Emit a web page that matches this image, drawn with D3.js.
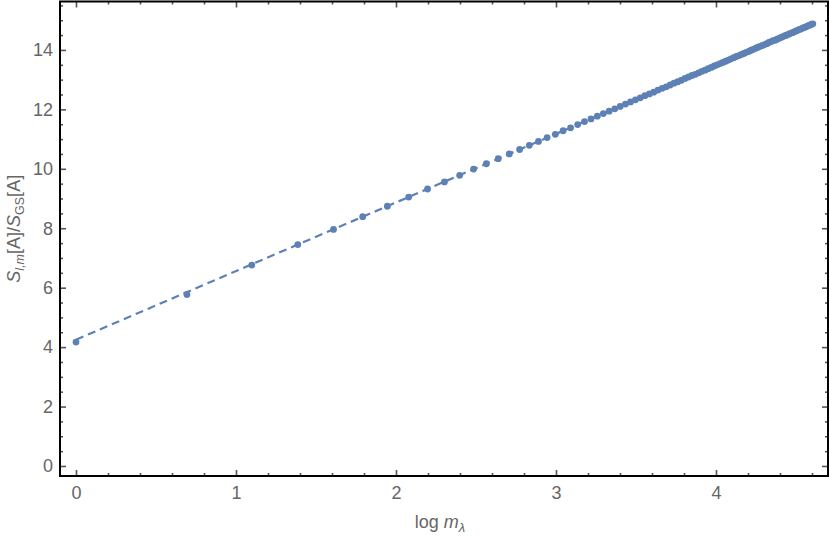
<!DOCTYPE html>
<html>
<head>
<meta charset="utf-8">
<script src="https://cdn.jsdelivr.net/npm/d3@7"></script>
<style>
  html, body { margin: 0; padding: 0; background: #fff; }
  svg { display: block; }
  text { font-family: "Liberation Sans", Arial, sans-serif; }
</style>
</head>
<body>
<svg id="chart" width="830" height="536"></svg>
<script>
// ---- data ----
const mValues = [1,2,3,4,5,6,7,8,9,10,11,12,13,14,15,16,17,18,19,20,
  21,22,23,24,25,26,27,28,29,30,31,32,33,34,35,36,37,38,39,40,
  41,42,43,44,45,46,47,48,49,50,51,52,53,54,55,56,57,58,59,60,
  61,62,63,64,65,66,67,68,69,70,71,72,73,74,75,76,77,78,79,80,
  81,82,83,84,85,86,87,88,89,90,91,92,93,94,95,96,97,98,99,100];
const ratioValues = [4.17,5.77,6.76,7.45,7.96,8.39,8.74,9.05,9.32,9.56,
  9.78,9.99,10.17,10.34,10.50,10.65,10.79,10.92,11.05,11.16,
  11.28,11.38,11.49,11.59,11.68,11.77,11.86,11.94,12.02,12.10,
  12.18,12.25,12.32,12.39,12.46,12.52,12.58,12.65,12.71,12.76,
  12.82,12.88,12.93,12.98,13.04,13.09,13.14,13.18,13.23,13.28,
  13.32,13.37,13.41,13.46,13.50,13.54,13.58,13.62,13.66,13.70,
  13.74,13.78,13.81,13.85,13.88,13.92,13.95,13.99,14.02,14.06,
  14.09,14.12,14.15,14.18,14.21,14.25,14.28,14.31,14.33,14.36,
  14.39,14.42,14.45,14.48,14.50,14.53,14.56,14.58,14.61,14.64,
  14.66,14.69,14.71,14.74,14.76,14.78,14.81,14.83,14.86,14.88];
// dashed fit line: [log m, ratio] end points
const fitLine = [[0, 4.25], [4.605, 14.88]];
const xTicks = [0, 1, 2, 3, 4];
const yTicks = [0, 2, 4, 6, 8, 10, 12, 14];

// ---- layout ----
const L = 60, R = 828, T = 1.5, B = 476;
const color = "#5E81B5";
const svg = d3.select("#chart");

const x = d3.scaleLinear().domain([-0.1, 4.7]).range([L, R]);
const y = d3.scaleLinear().domain([-0.337, 15.63]).range([B, T]);

const xMinor = d3.range(0, 4.7, 0.2).filter(v => Math.abs(v - Math.round(v)) > 1e-6);
const yMinor = d3.range(0, 15.6, 0.5).filter(v => Math.abs(v/2 - Math.round(v/2)) > 1e-6);

const tickColor = "#555";
const labelColor = "#666";

function addAxis(gen, transform, values, size, labels) {
  const g = svg.append("g").attr("transform", transform)
    .call(gen.tickValues(values).tickSize(size).tickSizeOuter(0).tickPadding(8)
      .tickFormat(labels ? d3.format("d") : () => ""));
  g.select(".domain").remove();
  g.selectAll(".tick line").attr("stroke", tickColor).attr("stroke-width", 1.6);
  g.selectAll(".tick text").attr("fill", labelColor).style("font-size", "18px")
    .style("font-family", "'Liberation Sans', Arial, sans-serif");
  return g;
}
// bottom
addAxis(d3.axisBottom(x), `translate(0,${B})`, xTicks, -6, true)
  .selectAll(".tick text").attr("y", 10).attr("dy", "0.71em");
addAxis(d3.axisBottom(x), `translate(0,${B})`, xMinor, -3, false);
// top
addAxis(d3.axisTop(x), `translate(0,${T})`, xTicks, -6, false);
addAxis(d3.axisTop(x), `translate(0,${T})`, xMinor, -3, false);
// left
addAxis(d3.axisLeft(y), `translate(${L},0)`, yTicks, -6, true)
  .selectAll(".tick text").attr("x", -7);
addAxis(d3.axisLeft(y), `translate(${L},0)`, yMinor, -3, false);
// right
addAxis(d3.axisRight(y), `translate(${R},0)`, yTicks, -6, false);
addAxis(d3.axisRight(y), `translate(${R},0)`, yMinor, -3, false);

// frame
svg.append("rect").attr("x", L).attr("y", T).attr("width", R - L).attr("height", B - T)
  .attr("fill", "none").attr("stroke", "#000").attr("stroke-width", 2);

// dashed fit line
const line = d3.line().x(d => x(d[0])).y(d => y(d[1]));
svg.append("path").datum(fitLine).attr("d", line)
  .attr("fill", "none").attr("stroke", color).attr("stroke-width", 2.2)
  .attr("stroke-dasharray", "8,5");

// points
const pts = mValues.map((m, i) => [Math.log(m), ratioValues[i]]);
svg.append("g").selectAll("circle").data(pts).join("circle")
  .attr("cx", d => x(d[0])).attr("cy", d => y(d[1])).attr("r", 3.4)
  .attr("fill", color);

// x axis label
const xl = svg.append("text").attr("x", (L + R) / 2 - 4).attr("y", 528)
  .attr("text-anchor", "middle").attr("fill", labelColor).style("font-size", "18px");
xl.append("tspan").text("log ");
xl.append("tspan").attr("font-style", "italic").text("m");
xl.append("tspan").attr("font-style", "italic").attr("dy", 4).style("font-size", "13px").text("λ");

// y axis label
const yl = svg.append("text").attr("transform", `translate(20,${(T + B) / 2 - 10}) rotate(-90)`)
  .attr("text-anchor", "middle").attr("fill", labelColor).style("font-size", "18px");
yl.append("tspan").attr("font-style", "italic").text("S");
yl.append("tspan").attr("font-style", "italic").attr("dy", 4).style("font-size", "12.5px").text("l,m");
yl.append("tspan").attr("dy", -4).text("[A]/");
yl.append("tspan").attr("font-style", "italic").text("S");
yl.append("tspan").attr("dy", 4).style("font-size", "12.5px").text("GS");
yl.append("tspan").attr("dy", -4).text("[A]");
</script>
</body>
</html>
